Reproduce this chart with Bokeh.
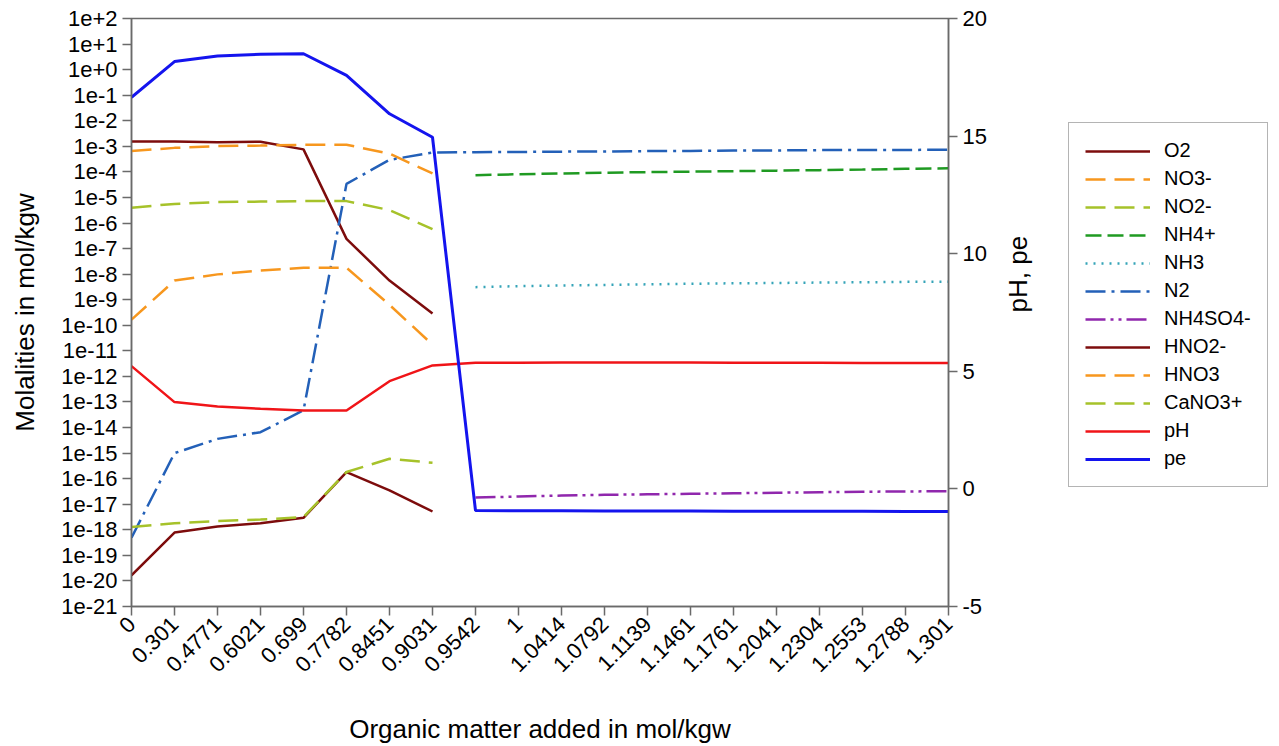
import math
from bokeh.plotting import figure
from bokeh.layouts import row
from bokeh.models import (Range1d, LinearScale, LinearAxis, FixedTicker, Legend,
                          LegendItem, ColumnDataSource)
from bokeh.embed import file_html
from bokeh.resources import INLINE

# ---------------- data ----------------
x_labels = ["0", "0.301", "0.4771", "0.6021", "0.699", "0.7782", "0.8451", "0.9031",
            "0.9542", "1", "1.0414", "1.0792", "1.1139", "1.1461", "1.1761", "1.2041",
            "1.2304", "1.2553", "1.2788", "1.301"]

y_tick_values = [1e2, 1e1, 1e0, 1e-1, 1e-2, 1e-3, 1e-4, 1e-5, 1e-6, 1e-7, 1e-8, 1e-9,
                 1e-10, 1e-11, 1e-12, 1e-13, 1e-14, 1e-15, 1e-16, 1e-17, 1e-18, 1e-19,
                 1e-20, 1e-21]
y_tick_labels = ["1e+2", "1e+1", "1e+0", "1e-1", "1e-2", "1e-3", "1e-4", "1e-5", "1e-6",
                 "1e-7", "1e-8", "1e-9", "1e-10", "1e-11", "1e-12", "1e-13", "1e-14",
                 "1e-15", "1e-16", "1e-17", "1e-18", "1e-19", "1e-20", "1e-21"]
y2_ticks = [-5, 0, 5, 10, 15, 20]
y2_labels = ["-5", "0", "5", "10", "15", "20"]

N = None
o2 = [1.55e-3, 1.55e-3, 1.45e-3, 1.51e-3, 7.6e-4, 2.4e-7, 5.6e-9, 2.9e-10,
      N, N, N, N, N, N, N, N, N, N, N, N]
no3 = [6.5e-4, 8.7e-4, 1.02e-3, 1.07e-3, 1.15e-3, 1.15e-3, 5.2e-4, 8.7e-5,
       N, N, N, N, N, N, N, N, N, N, N, N]
no2 = [4.0e-6, 5.6e-6, 6.6e-6, 6.9e-6, 7.2e-6, 7.2e-6, 3.2e-6, 5.8e-7,
       N, N, N, N, N, N, N, N, N, N, N, N]
nh4 = [N, N, N, N, N, N, N, N,
       7.4e-5, 8.1e-5, 8.7e-5, 9.3e-5, 9.8e-5, 1.02e-4, 1.07e-4, 1.12e-4, 1.17e-4,
       1.23e-4, 1.32e-4, 1.38e-4]
nh3 = [N, N, N, N, N, N, N, N,
       3.1e-9, 3.4e-9, 3.6e-9, 3.8e-9, 4.0e-9, 4.2e-9, 4.4e-9, 4.5e-9, 4.7e-9,
       4.8e-9, 5.0e-9, 5.1e-9]
n2 = [4.9e-19, 1.0e-15, 3.6e-15, 6.6e-15, 4.7e-14, 3.4e-5, 2.95e-4, 5.75e-4,
      5.9e-4, 6.0e-4, 6.2e-4, 6.3e-4, 6.5e-4, 6.6e-4, 6.8e-4, 6.9e-4, 7.1e-4,
      7.2e-4, 7.2e-4, 7.4e-4]
nh4so4 = [N, N, N, N, N, N, N, N,
          1.82e-17, 2.0e-17, 2.19e-17, 2.34e-17, 2.45e-17, 2.57e-17, 2.69e-17,
          2.82e-17, 2.95e-17, 3.09e-17, 3.16e-17, 3.24e-17]
hno2 = [1.66e-20, 7.8e-19, 1.35e-18, 1.82e-18, 2.95e-18, 1.82e-16, 3.5e-17, 5.2e-18,
        N, N, N, N, N, N, N, N, N, N, N, N]
hno3 = [1.66e-10, 5.6e-9, 9.8e-9, 1.38e-8, 1.78e-8, 1.78e-8, 6.3e-10, 1.74e-11,
        N, N, N, N, N, N, N, N, N, N, N, N]
cano3 = [1.29e-18, 1.82e-18, 2.19e-18, 2.51e-18, 3.16e-18, 1.82e-16, 6.0e-16, 4.2e-16,
         N, N, N, N, N, N, N, N, N, N, N, N]
ph = [5.22, 3.69, 3.50, 3.41, 3.33, 3.33, 4.58, 5.25, 5.36, 5.36, 5.37, 5.37, 5.37,
      5.37, 5.36, 5.36, 5.36, 5.35, 5.35, 5.35]
pe = [16.65, 18.17, 18.41, 18.48, 18.50, 17.58, 15.95, 14.95, -0.92, -0.93, -0.93,
      -0.94, -0.94, -0.94, -0.95, -0.95, -0.95, -0.95, -0.96, -0.96]

# name, values, color, dash, width, axis
series = [
    ("O2", o2, "#7d0c0c", "solid", 2.5, "log"),
    ("NO3-", no3, "#f7971e", "20 9", 2.5, "log"),
    ("NO2-", no2, "#a6c22a", "20 9", 2.5, "log"),
    ("NH4+", nh4, "#1f9a22", "16 6", 2.5, "log"),
    ("NH3", nh3, "#35a4b8", "2 6", 2.5, "log"),
    ("N2", n2, "#2360b8", "20 6 3 6", 2.5, "log"),
    ("NH4SO4-", nh4so4, "#9027ad", "20 5 3 5 3 5", 2.5, "log"),
    ("HNO2-", hno2, "#7d0c0c", "solid", 2.5, "log"),
    ("HNO3", hno3, "#f7971e", "20 9", 2.5, "log"),
    ("CaNO3+", cano3, "#a6c22a", "20 9", 2.5, "log"),
    ("pH", ph, "#f01418", "solid", 2.5, "ph"),
    ("pe", pe, "#1414ee", "solid", 3.0, "ph"),
]

FONT = "Liberation Sans"
AXC = "#6a6a6a"
MAIN_W, TOTAL_W, H = 1050, 1279, 746
FRAME_RIGHT, FRAME_BOTTOM = 948, 606

p = figure(width=MAIN_W, height=H, y_axis_type="log",
           x_range=Range1d(0, len(x_labels) - 1), y_range=Range1d(1e-21, 1e2),
           output_backend="svg", toolbar_location=None,
           min_border_left=131, min_border_right=MAIN_W - FRAME_RIGHT,
           min_border_top=18, min_border_bottom=H - FRAME_BOTTOM)
p.extra_y_ranges = {"ph": Range1d(-5, 20)}
p.extra_y_scales = {"ph": LinearScale()}
p.xgrid.visible = False
p.ygrid.visible = False
p.outline_line_color = AXC
p.outline_line_width = 1.5
p.background_fill_color = "white"
p.border_fill_color = "white"

right = LinearAxis(y_range_name="ph", ticker=FixedTicker(ticks=y2_ticks),
                   axis_label="pH, pe")
right.major_label_overrides = {v: lab for v, lab in zip(y2_ticks, y2_labels)}
p.add_layout(right, "right")

for ax in [p.xaxis[0], p.yaxis[0], right]:
    ax.axis_line_color = AXC
    ax.axis_line_width = 1.5
    ax.major_tick_line_color = AXC
    ax.major_tick_line_width = 1.5
    ax.major_tick_in = 0
    ax.major_tick_out = 9
    ax.minor_tick_line_color = None
    ax.major_label_text_font = FONT
    ax.major_label_text_font_size = "22px"
    ax.major_label_text_color = "black"
    ax.axis_label_text_font = FONT
    ax.axis_label_text_font_size = "26px"
    ax.axis_label_text_font_style = "normal"
    ax.axis_label_text_color = "black"

xa = p.xaxis[0]
xa.ticker = FixedTicker(ticks=list(range(len(x_labels))))
xa.major_label_overrides = {i: lab for i, lab in enumerate(x_labels)}
xa.major_label_orientation = math.pi / 4
xa.axis_label = "Organic matter added in mol/kgw"
xa.axis_label_standoff = 32

ya = p.yaxis[0]
ya.ticker = FixedTicker(ticks=y_tick_values)
ya.major_label_overrides = {v: lab for v, lab in zip(y_tick_values, y_tick_labels)}
ya.axis_label = "Molalities in mol/kgw"
ya.axis_label_standoff = 18

right.axis_label_standoff = 28
try:
    right.axis_label_orientation = math.pi / 2
except Exception:
    pass

# legend lives in its own small figure to the right; its proxy lines share the
# real data sources but the ranges keep them out of view
lg = figure(width=TOTAL_W - MAIN_W, height=H, x_range=Range1d(1000, 2000),
            y_range=Range1d(1000, 2000), output_backend="svg",
            toolbar_location=None, x_axis_location=None, y_axis_location=None,
            min_border_left=0, min_border_right=0, min_border_top=18,
            min_border_bottom=H - FRAME_BOTTOM)
lg.xgrid.visible = False
lg.ygrid.visible = False
lg.outline_line_color = None
lg.background_fill_color = "white"
lg.border_fill_color = "white"

items = []
for name, vals, color, dash, w, axis in series:
    xs = [i for i, v in enumerate(vals) if v is not None]
    ys = [v for v in vals if v is not None]
    src = ColumnDataSource(dict(x=xs, y=ys))
    kw = {}
    if axis == "ph":
        kw["y_range_name"] = "ph"
    p.line("x", "y", source=src, line_color=color, line_width=w,
           line_dash=dash, **kw)
    proxy = lg.line("x", "y", source=src, line_color=color, line_width=w,
                    line_dash=dash)
    items.append(LegendItem(label=name, renderers=[proxy]))

legend = Legend(items=items, location=(1068 - MAIN_W, FRAME_BOTTOM - 487))
legend.label_text_font = FONT
legend.label_text_font_size = "20px"
legend.label_text_color = "black"
legend.glyph_width = 65
legend.glyph_height = 20
legend.label_height = 20
legend.spacing = 5
legend.padding = 16
legend.margin = 0
legend.label_standoff = 14
legend.border_line_color = "#6a6a6a"
legend.border_line_width = 1.5
legend.background_fill_color = "white"
legend.background_fill_alpha = 1.0
lg.add_layout(legend)

layout = row(p, lg, spacing=0)
open("out.html", "w").write(file_html(layout, INLINE))
